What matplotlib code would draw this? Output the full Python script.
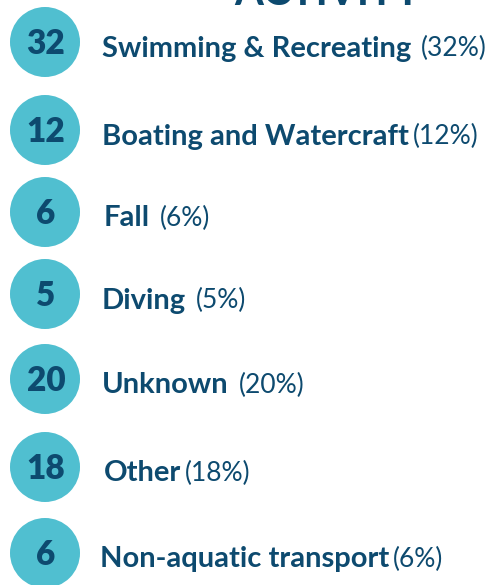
import matplotlib
matplotlib.use("Agg")
import matplotlib.pyplot as plt
from matplotlib.patches import Circle

# Data
categories = ["Swimming & Recreating", "Boating and Watercraft", "Fall", "Diving",
              "Unknown", "Other", "Non-aquatic transport"]
values = [32, 12, 6, 5, 20, 18, 6]
title = "ACTIVITY"

# Layout
row_y = [42, 130, 212, 294, 379, 467, 553]
label_x = [102, 102, 104, 102, 102, 104, 100]
pct_gap = [10, 4, 10, 10, 10, 4, 4]
circle_x = 45
radius = 35

circle_color = "#50BFD0"
text_color = "#0D4A6F"

fig = plt.figure(figsize=(4.89, 5.85), dpi=100)
ax = fig.add_axes([0, 0, 1, 1])
ax.set_xlim(0, 489)
ax.set_ylim(585, 0)
ax.set_aspect("equal")
ax.axis("off")

ax.text(328, 5, title, fontsize=30, fontweight="bold", color=text_color,
        family="Lato", ha="center", va="baseline")

for y, lx, gap, cat, v in zip(row_y, label_x, pct_gap, categories, values):
    ax.add_patch(Circle((circle_x, y), radius, color=circle_color, lw=0))
    ax.text(circle_x + 1, y - 1, str(v), fontsize=24, fontweight="heavy", color=text_color,
            family="Lato", ha="center", va="center_baseline")
    t = ax.text(lx, y + 4, cat, fontsize=21, fontweight="bold", color=text_color,
                family="Lato", ha="left", va="center_baseline")
    fig.canvas.draw()
    bb = t.get_window_extent()
    ax.text(bb.x1 + gap, y + 4, f"({v}%)", fontsize=19, color=text_color,
            family="Lato", fontweight="normal", ha="left", va="center_baseline")

fig.savefig("out.png", dpi=100)
